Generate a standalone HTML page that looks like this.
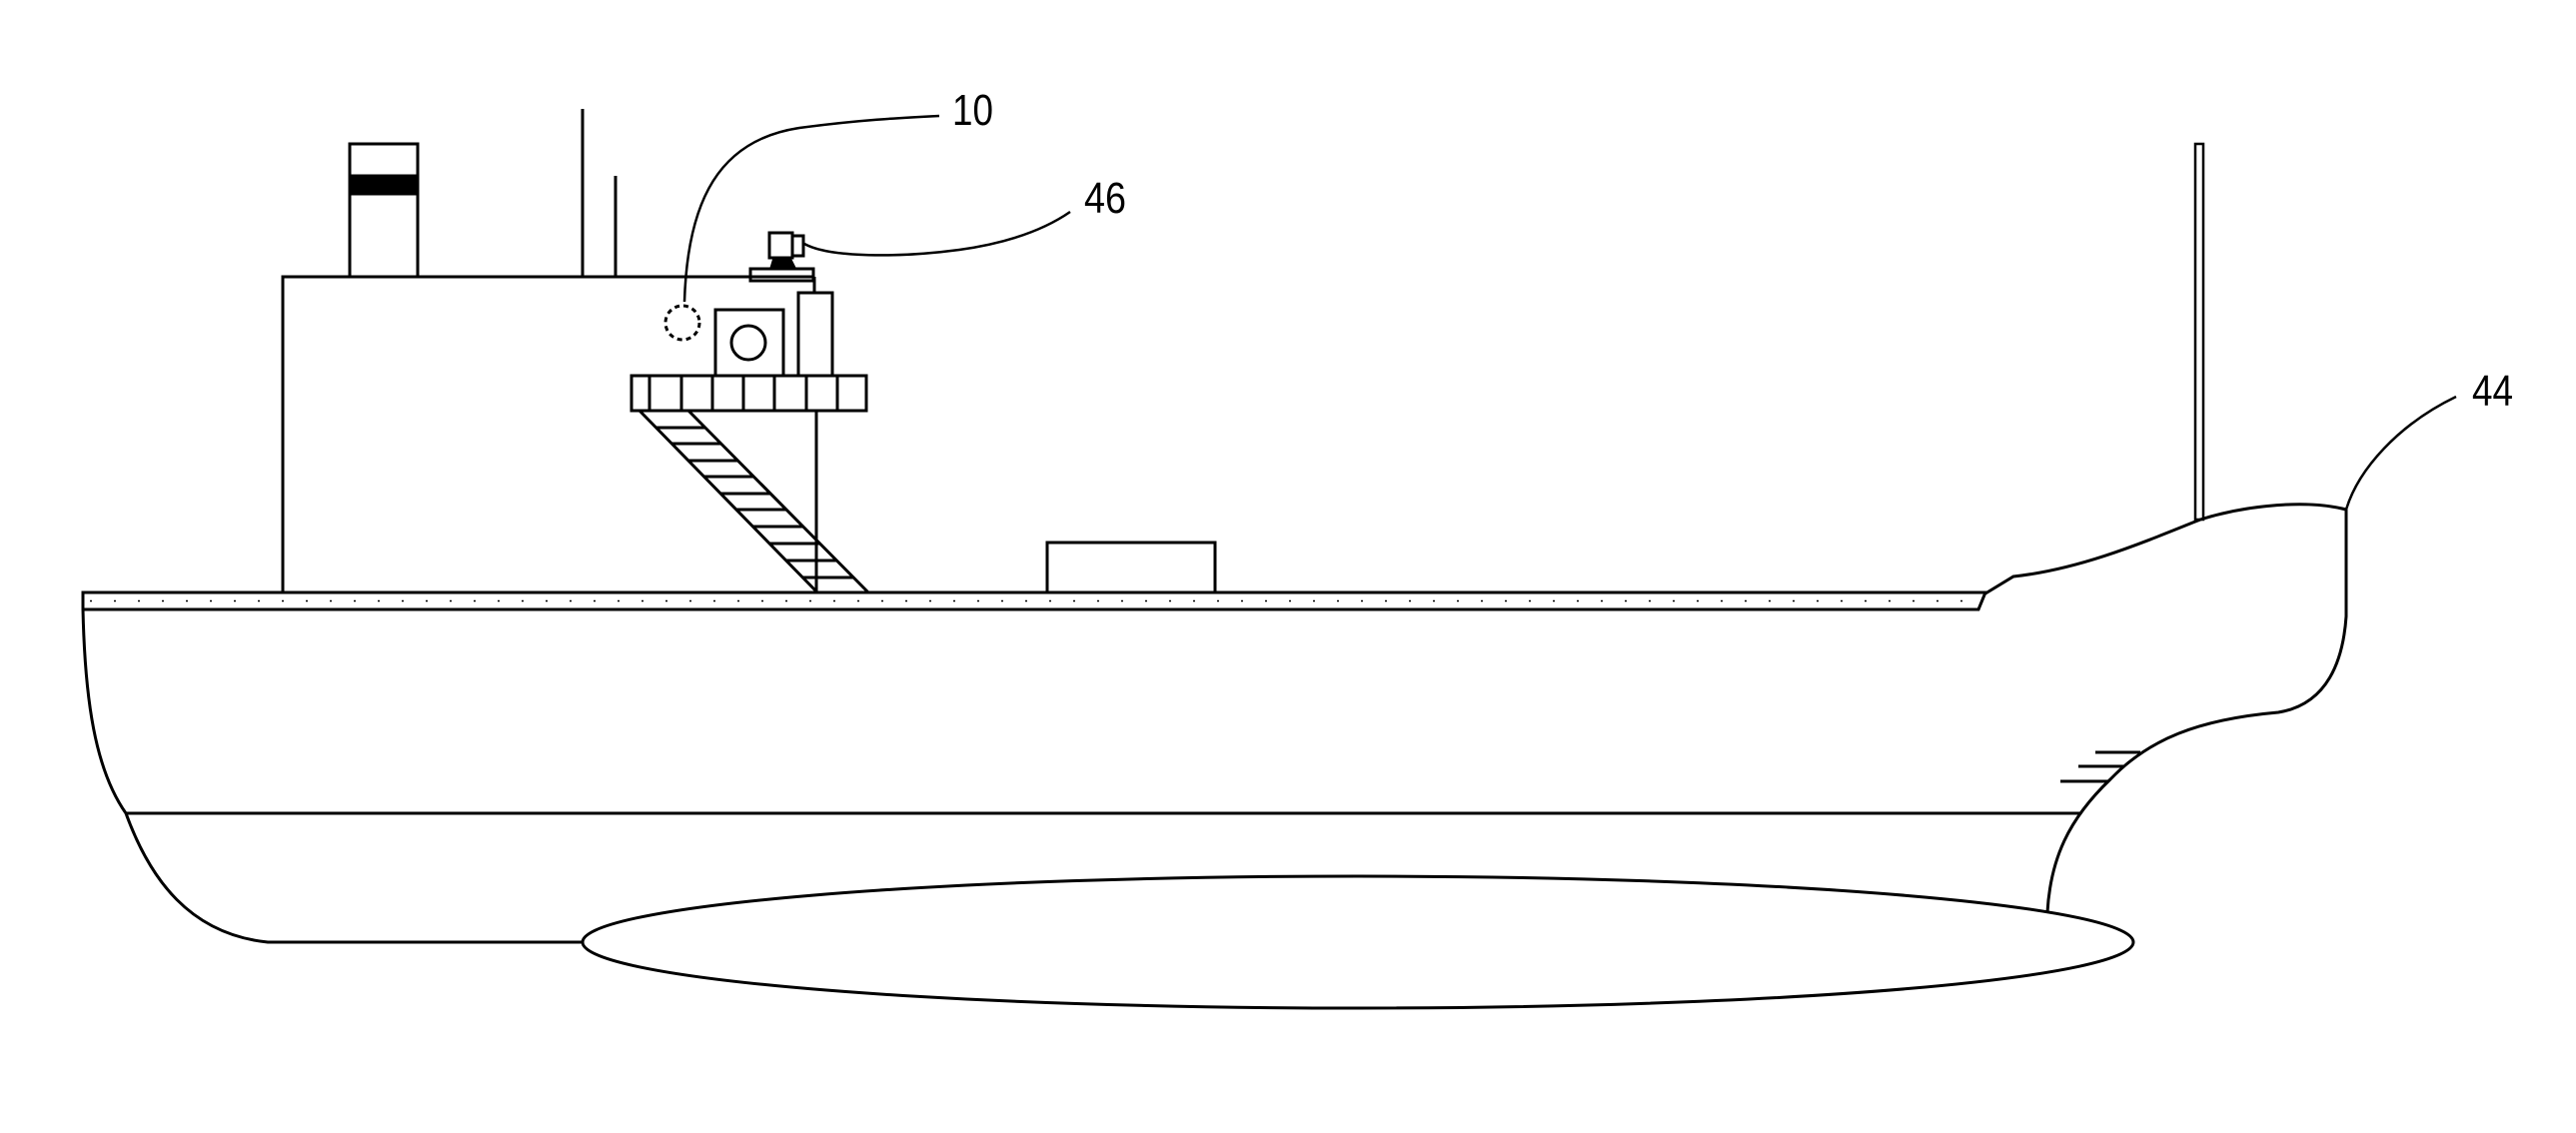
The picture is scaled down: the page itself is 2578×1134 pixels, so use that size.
<!DOCTYPE html>
<html><head><meta charset="utf-8"><style>html,body{margin:0;padding:0;background:#fff}svg{display:block}</style></head>
<body>
<svg width="2578" height="1134" viewBox="0 0 2578 1134" xmlns="http://www.w3.org/2000/svg" fill="none" stroke="#000" stroke-width="3">
<defs>
<clipPath id="lad"><polygon points="640,411 689,411 869,593 818,593"/></clipPath>
</defs>
<!-- chimney -->
<rect x="350" y="144" width="68" height="133"/>
<rect x="350" y="176" width="68" height="18" fill="#000"/>
<!-- masts -->
<line x1="583" y1="109" x2="583" y2="277"/>
<line x1="616" y1="176" x2="616" y2="277"/>
<!-- superstructure -->
<polyline points="283,593 283,277 815,277"/>
<line x1="815" y1="277" x2="815" y2="293"/>
<line x1="817" y1="411" x2="817" y2="593"/>
<!-- equipment -->
<ellipse cx="683" cy="323" rx="17" ry="17" stroke-dasharray="5,4"/>
<rect x="716" y="310" width="68" height="66"/>
<circle cx="749" cy="343" r="17"/>
<rect x="799" y="293" width="34" height="83"/>
<!-- camera 46 -->
<rect x="770" y="233" width="23" height="25"/>
<rect x="793" y="236" width="11" height="20"/>
<polygon points="772,268 775,258 790,258 795,268" fill="#000"/>
<rect x="751" y="269" width="63" height="12"/>
<!-- platform -->
<rect x="632" y="376" width="235" height="35"/>
<g>
<line x1="650" y1="376" x2="650" y2="411"/><line x1="682" y1="376" x2="682" y2="411"/>
<line x1="713" y1="376" x2="713" y2="411"/><line x1="744" y1="376" x2="744" y2="411"/>
<line x1="775" y1="376" x2="775" y2="411"/><line x1="807" y1="376" x2="807" y2="411"/>
<line x1="838" y1="376" x2="838" y2="411"/>
</g>
<!-- ladder -->
<line x1="640" y1="411" x2="818" y2="593"/>
<line x1="689" y1="411" x2="869" y2="593"/>
<g clip-path="url(#lad)" stroke-width="3">
<line x1="600" y1="428" x2="900" y2="428"/><line x1="600" y1="444" x2="900" y2="444"/>
<line x1="600" y1="461" x2="900" y2="461"/><line x1="600" y1="477" x2="900" y2="477"/>
<line x1="600" y1="494" x2="900" y2="494"/><line x1="600" y1="510" x2="900" y2="510"/>
<line x1="600" y1="527" x2="900" y2="527"/><line x1="600" y1="544" x2="900" y2="544"/>
<line x1="600" y1="561" x2="900" y2="561"/><line x1="600" y1="578" x2="900" y2="578"/>
</g>
<!-- deck box -->
<rect x="1048" y="543" width="168" height="50"/>
<!-- deck band -->
<polyline points="83,610 83,593 1987,593 1980,610 83,610"/>
<line x1="90" y1="601.5" x2="1975" y2="601.5" stroke-width="1.5" stroke-dasharray="2,22"/>
<!-- hull -->
<path d="M83,610 C85,700 95,770 126,814 C150,880 190,935 268,943 L583,943"/>
<line x1="126" y1="814" x2="2082" y2="814"/>
<!-- bow -->
<path d="M1987,594 L2015,577 C2080,570 2140,545 2202,520 C2250,505 2310,500 2348,510 L2348,617 C2345,660 2330,705 2280,713 C2200,720 2150,740 2112,780 C2070,820 2052,860 2049,913"/>
<line x1="2097" y1="753" x2="2142" y2="753"/>
<line x1="2080" y1="767" x2="2125" y2="767"/>
<line x1="2062" y1="782" x2="2110" y2="782"/>
<!-- right mast -->
<rect x="2197" y="144" width="8" height="376" stroke-width="2.5"/>
<!-- ellipse -->
<ellipse cx="1359" cy="943" rx="776" ry="66"/>
<!-- leaders -->
<path d="M685,302 C688,200 720,140 800,128 C860,120 900,118 940,116" stroke-width="2.5"/>
<path d="M805,244 C830,258 900,258 960,250 C1010,243 1045,230 1071,212" stroke-width="2.5"/>
<path d="M2348,510 C2360,470 2400,425 2458,397" stroke-width="2.5"/>
<!-- labels -->
<g font-family="Liberation Sans, Arial, sans-serif" font-size="44" fill="#000" stroke="none">
<text x="953" y="125" textLength="41" lengthAdjust="spacingAndGlyphs">10</text>
<text x="1085" y="213" textLength="42" lengthAdjust="spacingAndGlyphs">46</text>
<text x="2474" y="406" textLength="41" lengthAdjust="spacingAndGlyphs">44</text>
</g>
</svg>
</body></html>
